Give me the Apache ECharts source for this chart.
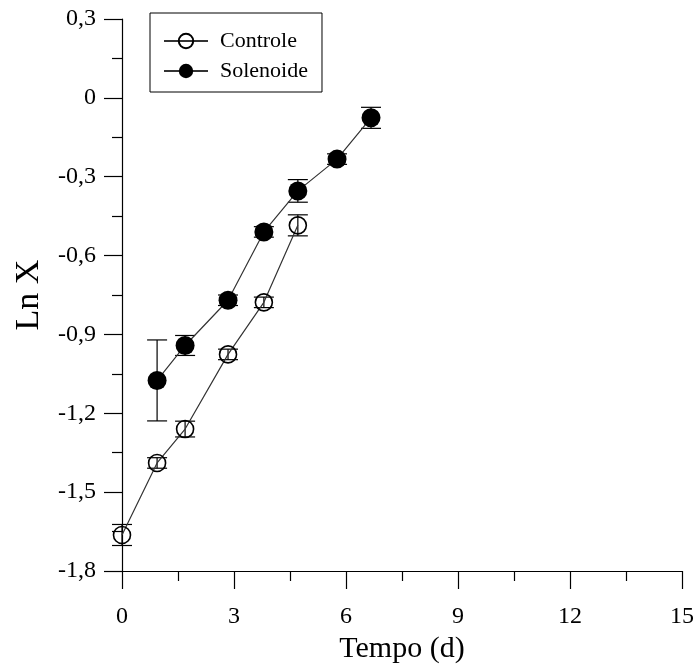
<!DOCTYPE html>
<html>
<head>
<meta charset="utf-8">
<script src="https://cdn.jsdelivr.net/npm/echarts@6/dist/echarts.min.js"></script>
<style>
  html, body { margin: 0; padding: 0; background: #fff; }
  #chart { width: 693px; height: 668px; }
</style>
</head>
<body>
<div id="chart"></div>
<script>
// Growth curves: Ln X versus time (days)
const tempoControle = [0, 0.94, 1.69, 2.84, 3.80, 4.71];
const lnXControle   = [-1.663, -1.389, -1.260, -0.976, -0.778, -0.485];
const errControle   = [0.040, 0.020, 0.030, 0.020, 0.020, 0.040];

const tempoSolenoide = [0.94, 1.69, 2.84, 3.80, 4.71, 5.76, 6.67];
const lnXSolenoide   = [-1.075, -0.942, -0.770, -0.510, -0.354, -0.233, -0.076];
const errSolenoide   = [0.154, 0.038, 0.020, 0.020, 0.043, 0.020, 0.040];

const xTicks = { min: 0, max: 15, interval: 3 };
const yTicks = { min: -1.8, max: 0.3, interval: 0.3 };

const FONT = '"Liberation Serif", "DejaVu Serif", serif';

function pairs(xs, ys) { return xs.map((x, i) => [x, ys[i]]); }
function errRows(xs, ys, es) { return xs.map((x, i) => [x, ys[i] - es[i], ys[i] + es[i]]); }

// vertical error bar with short horizontal caps
function errorBarRender(params, api) {
  const x = api.value(0);
  const lo = api.coord([x, api.value(1)]);
  const hi = api.coord([x, api.value(2)]);
  const hw = 10;
  const style = { stroke: '#000', lineWidth: 1.2 };
  return {
    type: 'group',
    children: [
      { type: 'line', shape: { x1: lo[0], y1: lo[1], x2: hi[0], y2: hi[1] }, style },
      { type: 'line', shape: { x1: lo[0] - hw, y1: lo[1], x2: lo[0] + hw, y2: lo[1] }, style },
      { type: 'line', shape: { x1: hi[0] - hw, y1: hi[1], x2: hi[0] + hw, y2: hi[1] }, style }
    ]
  };
}

// decimal comma, plain "0" at zero
function fmtComma(v) {
  if (Math.abs(v) < 1e-9) return '0';
  const r = Math.round(v * 10) / 10;
  const s = Number.isInteger(r) ? String(r) : r.toFixed(1);
  return s.replace('.', ',');
}

const chart = echarts.init(document.getElementById('chart'), null, { renderer: 'canvas' });

chart.setOption({
  animation: false,
  backgroundColor: '#fff',
  grid: { left: 122, right: 11, top: 19, bottom: 97, containLabel: false, outerBoundsMode: 'none' },
  legend: {
    orient: 'vertical',
    left: 150,
    top: 13,
    padding: [17, 14, 10, 13],
    itemGap: 8,
    itemWidth: 44,
    itemHeight: 18,
    borderColor: '#000',
    borderWidth: 1,
    backgroundColor: '#fff',
    textStyle: { fontFamily: FONT, fontSize: 22, color: '#000', padding: [0, 0, 0, 7] },
    data: ['Controle', 'Solenoide']
  },
  xAxis: {
    type: 'value',
    min: xTicks.min, max: xTicks.max, interval: xTicks.interval,
    name: 'Tempo (d)',
    nameLocation: 'middle',
    nameGap: 62,
    nameTextStyle: { fontFamily: FONT, fontSize: 30, color: '#000' },
    axisLine: { show: true, onZero: false, lineStyle: { color: '#000', width: 1.2 } },
    axisTick: { show: true, inside: false, length: 18, lineStyle: { color: '#000', width: 1.2 } },
    minorTick: { show: true, splitNumber: 2, length: 10, lineStyle: { color: '#000', width: 1.2 } },
    splitLine: { show: false },
    axisLabel: { fontFamily: FONT, fontSize: 24, color: '#000', margin: 34, formatter: v => fmtComma(v) }
  },
  yAxis: {
    type: 'value',
    min: yTicks.min, max: yTicks.max, interval: yTicks.interval,
    name: 'Ln X',
    nameLocation: 'middle',
    nameGap: 76,
    nameRotate: 90,
    nameTextStyle: { fontFamily: FONT, fontSize: 34, color: '#000' },
    axisLine: { show: true, onZero: false, lineStyle: { color: '#000', width: 1.2 } },
    axisTick: { show: true, inside: false, length: 18, lineStyle: { color: '#000', width: 1.2 } },
    minorTick: { show: true, splitNumber: 2, length: 10, lineStyle: { color: '#000', width: 1.2 } },
    splitLine: { show: false },
    axisLabel: { fontFamily: FONT, fontSize: 24, color: '#000', margin: 26, formatter: v => fmtComma(v) }
  },
  series: [
    {
      name: 'Controle',
      type: 'line',
      data: pairs(tempoControle, lnXControle),
      symbol: 'circle',
      symbolSize: 17,
      z: 3,
      lineStyle: { color: '#333', width: 1.2 },
      itemStyle: { color: 'rgba(255,255,255,0)', borderColor: '#000', borderWidth: 1.6 }
    },
    {
      name: 'Solenoide',
      type: 'line',
      data: pairs(tempoSolenoide, lnXSolenoide),
      symbol: 'circle',
      symbolSize: 19,
      z: 3,
      lineStyle: { color: '#333', width: 1.2 },
      itemStyle: { color: '#000', borderColor: '#000', borderWidth: 0 }
    },
    {
      type: 'custom',
      name: 'errControle',
      data: errRows(tempoControle, lnXControle, errControle),
      renderItem: errorBarRender,
      encode: { x: 0, y: [1, 2] },
      z: 2
    },
    {
      type: 'custom',
      name: 'errSolenoide',
      data: errRows(tempoSolenoide, lnXSolenoide, errSolenoide),
      renderItem: errorBarRender,
      encode: { x: 0, y: [1, 2] },
      z: 2
    }
  ]
});
</script>
</body>
</html>
